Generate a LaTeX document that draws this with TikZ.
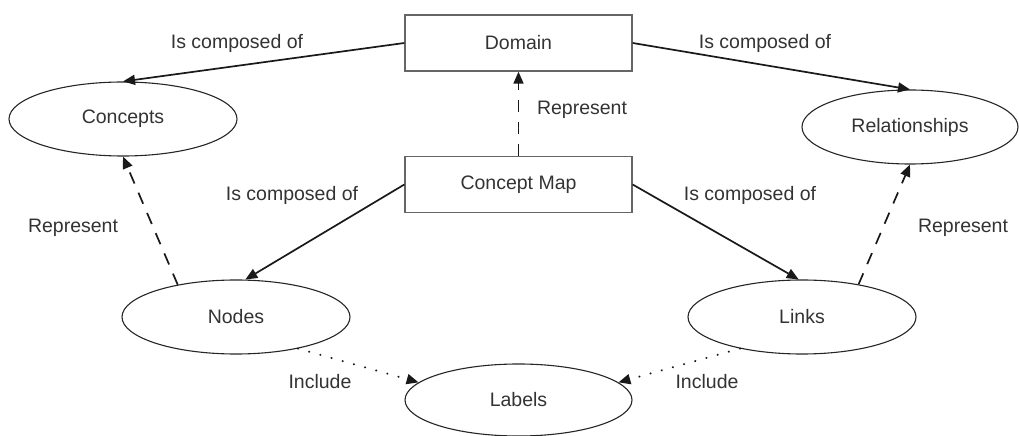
\documentclass[tikz,border=0pt]{standalone}
\usepackage{fontspec}
\setmainfont{Liberation Sans}
\usetikzlibrary{shapes.geometric,arrows.meta}
\begin{document}
\begin{tikzpicture}[x=1bp,y=-1bp,
  every node/.style={font=\fontsize{19.5bp}{23bp}\selectfont, text=black!80},
  oval/.style={ellipse, draw=black!85, line width=1.1bp, minimum width=228bp, minimum height=74bp, inner sep=0pt},
  box/.style={rectangle, draw=black!60, line width=1.3bp, minimum width=227bp, minimum height=56bp, inner sep=0pt},
  conn/.style={line width=1.7bp, draw=black!90, -{Triangle[length=12bp,width=10bp]}},
  dashconn/.style={conn, dash pattern=on 12bp off 10bp},
  dotconn/.style={conn, line width=2.2bp, dash pattern=on 0.1bp off 11.5bp, line cap=round},
  lbl/.style={inner sep=0pt}
]
\useasboundingbox (0,0) rectangle (1019,436);

% nodes
\node[box] (dom) at (518.5,43) {Domain};
\node[box] (cmap) at (518.5,184.5) {Concept Map};
\node[oval] (con) at (123,119) {Concepts};
\node[oval, minimum width=216bp] (rel) at (910,127) {Relationships};
\node[oval] (nod) at (236,317) {Nodes};
\node[oval] (lnk) at (802,317) {Links};
\node[oval, minimum width=227bp, minimum height=72bp] (lab) at (518.5,400) {Labels};

% connectors
\draw[conn] (dom.west) -- (con.north);
\draw[conn] (dom.east) -- (rel.north);
\draw[dashconn] (cmap.north) -- (dom.south);
\draw[conn] (cmap.west) -- (nod.76);
\draw[conn] (cmap.east) -- (lnk.95);
\draw[dashconn] (nod.151) -- (con.south);
\draw[dashconn] (lnk.30) -- (rel.south);
\draw[dotconn] (nod.-27) -- (lab.170);
\draw[dotconn] (lnk.207) -- (lab.10);

% labels
\node[lbl] (l1) at (237,43) {Is composed of};
\node[lbl] (l2) at (765,43) {Is composed of};
\node[lbl] (l3) at (582,110) {Represent};
\node[lbl] (l4) at (292,195) {Is composed of};
\node[lbl] (l5) at (750,195) {Is composed of};
\node[lbl] (l6) at (73,228) {Represent};
\node[lbl] (l7) at (963,228) {Represent};
\node[lbl] (l8) at (320,382) {Include};
\node[lbl] (l9) at (707,382) {Include};
\end{tikzpicture}
\end{document}
